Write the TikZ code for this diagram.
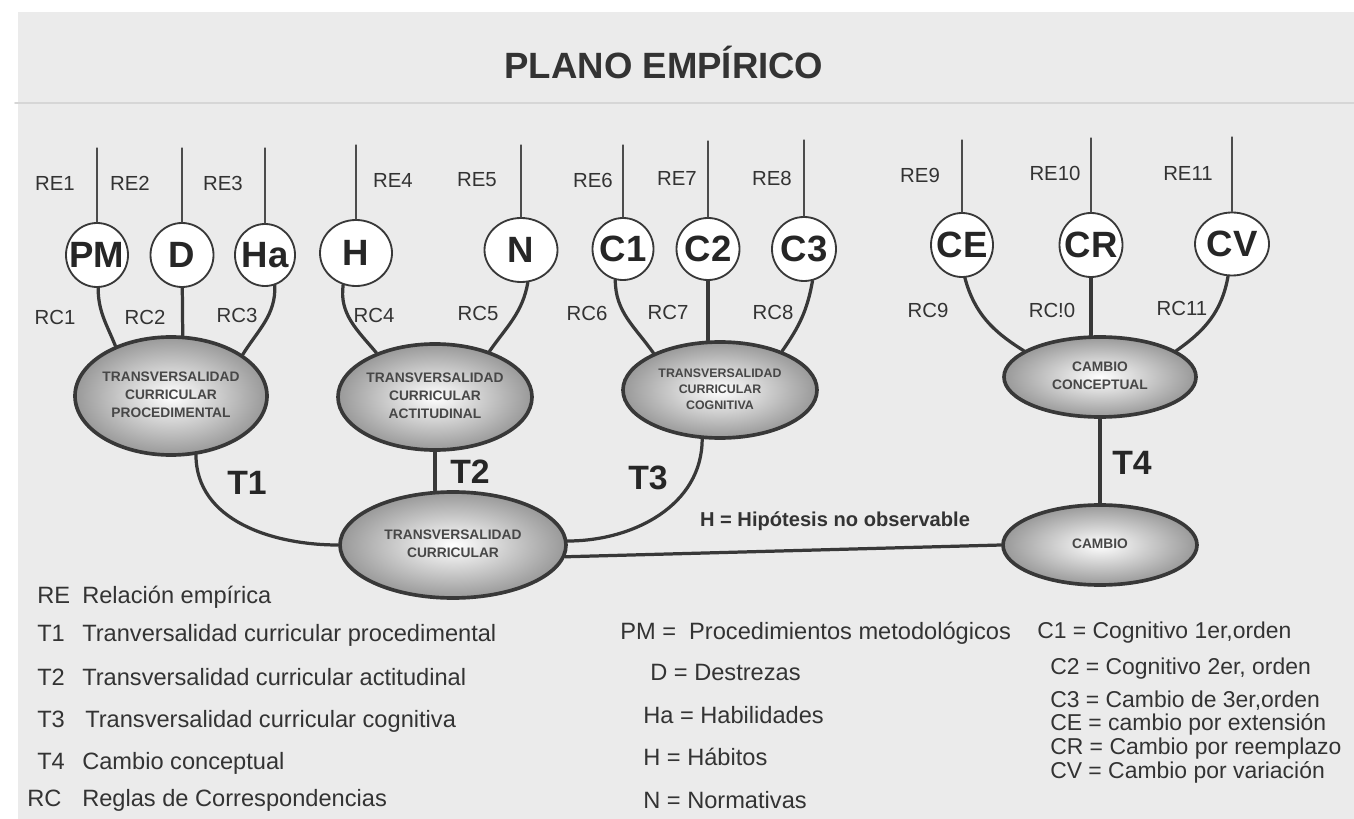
\documentclass[tikz,border=0pt]{standalone}
\usepackage{fontspec}
\setmainfont{Liberation Sans}
\usepackage{tikz}
\usetikzlibrary{positioning, calc}
\usetikzlibrary{shapes}

\newcommand{\ctext}[1]{\makebox[0pt]{\begin{tabular}{@{}c@{}}#1\end{tabular}}}

\begin{document}
\begin{tikzpicture}[x=0.025cm,y=-0.025cm,line cap=round]

	\def \px{0.025cm}
	\def \ink{black!78}
	\tikzstyle{bg}=[fill=black!8]
	\tikzstyle{c-node}=[ellipse,draw=\ink,line width=1.3pt,fill=white,inner sep=0pt,text=black!85,font=\fontsize{26}{26}\selectfont\bfseries]
	\tikzstyle{e-node}=[ellipse,draw=\ink,line width=2.6pt,inner sep=0pt,inner color=white,outer color=black!40,text=black!72,font=\fontsize{9.8}{13}\selectfont\bfseries]
	\tikzstyle{re-label}=[font=\fontsize{14.5}{17}\selectfont,text=black!80]
	\tikzstyle{t-label}=[font=\fontsize{24}{24}\selectfont\bfseries,text=black!85]
	\tikzstyle{legend}=[anchor=base west,inner sep=0pt,font=\fontsize{16.8}{19}\selectfont,text=black!80]
	\tikzstyle{legend-r}=[legend,font=\fontsize{16.3}{19}\selectfont]
	\tikzstyle{re-line}=[draw=black!70,line width=0.8pt]
	\tikzstyle{rc-line}=[draw=\ink,line width=2.3pt]

	\useasboundingbox (0,0) rectangle (1354,819);
	\fill[bg] (18,12) rectangle (1354,819);

	% title and plane
	\node[font=\fontsize{26}{26}\selectfont\bfseries,text=black!80] (title) at (664,62) {PLANO EMPÍRICO};
	\coordinate (planeL) at (15,103);
	\coordinate (planeR) at (1354,103);
	\draw[draw=black!16,line width=1.2pt] (planeL) -- (planeR);

	% observable concepts
	\node[c-node,minimum width=62*\px,minimum height=64*\px] (pm) at (97,255) {\makebox[0pt]{PM}};
	\node[c-node,minimum width=63*\px,minimum height=64*\px] (d)  at (182,255) {\makebox[0pt]{D}};
	\node[c-node,minimum width=60*\px,minimum height=62*\px] (ha) at (265,255) {\makebox[0pt]{Ha}};
	\node[c-node,minimum width=72*\px,minimum height=66*\px] (h)  at (356,253) {\makebox[0pt]{H}};
	\node[c-node,minimum width=73*\px,minimum height=64*\px] (n)  at (521,250) {\makebox[0pt]{N}};
	\node[c-node,minimum width=61*\px,minimum height=62*\px] (c1) at (623,249) {\makebox[0pt]{C1}};
	\node[c-node,minimum width=63*\px,minimum height=62*\px] (c2) at (708,249) {\makebox[0pt]{C2}};
	\node[c-node,minimum width=64*\px,minimum height=64*\px] (c3) at (804,249) {\makebox[0pt]{C3}};
	\node[c-node,minimum width=62*\px,minimum height=64*\px] (ce) at (962,245) {\makebox[0pt]{CE}};
	\node[c-node,minimum width=63*\px,minimum height=64*\px] (cr) at (1091,245) {\makebox[0pt]{CR}};
	\node[c-node,minimum width=74*\px,minimum height=63*\px] (cv) at (1232,244) {\makebox[0pt]{CV}};

	% hypotheses
	\node[e-node,minimum width=192*\px,minimum height=118*\px] (tcp) at (171,396) {\ctext{TRANSVERSALIDAD\\CURRICULAR\\PROCEDIMENTAL}};
	\node[e-node,minimum width=194*\px,minimum height=106*\px] (tca) at (435,397) {\ctext{TRANSVERSALIDAD\\CURRICULAR\\ACTITUDINAL}};
	\node[e-node,minimum width=194*\px,minimum height=96*\px,font=\fontsize{8.8}{11.5}\selectfont\bfseries] (tcc) at (720,390) {\ctext{TRANSVERSALIDAD\\CURRICULAR\\COGNITIVA}};
	\node[e-node,minimum width=192*\px,minimum height=80*\px] (cc) at (1100,377) {\ctext{CAMBIO\\CONCEPTUAL}};
	\node[e-node,minimum width=226*\px,minimum height=106*\px] (tc) at (453,545) {\ctext{TRANSVERSALIDAD\\CURRICULAR}};
	\node[e-node,minimum width=194*\px,minimum height=80*\px] (cambio) at (1100,545) {\ctext{CAMBIO}};

	% empirical relations
	\coordinate (re1)  at (97,148);
	\coordinate (re2)  at (182,148);
	\coordinate (re3)  at (265,148);
	\coordinate (re4)  at (356,145);
	\coordinate (re5)  at (521,145);
	\coordinate (re6)  at (623,145);
	\coordinate (re7)  at (708,141);
	\coordinate (re8)  at (804,140);
	\coordinate (re9)  at (962,140);
	\coordinate (re10) at (1091,138);
	\coordinate (re11) at (1232,137);
	\draw[re-line] (re1) -- (pm);
	\draw[re-line] (re2) -- (d);
	\draw[re-line] (re3) -- (ha);
	\draw[re-line] (re4) -- (h);
	\draw[re-line] (re5) -- (n);
	\draw[re-line] (re6) -- (c1);
	\draw[re-line] (re7) -- (c2);
	\draw[re-line] (re8) -- (c3);
	\draw[re-line] (re9) -- (ce);
	\draw[re-line] (re10) -- (cr);
	\draw[re-line] (re11) -- (cv);

	% correspondence rules
	\draw[rc-line] (pm.-88) to[out=-90,in=112] (tcp.138);
	\draw[rc-line] (d) -- (tcp.79);
	\draw[rc-line] (ha.-72) to[out=-88,in=58] (tcp.30);
	\draw[rc-line] (h.-112) to[out=-98,in=130] (tca.143);
	\draw[rc-line] (n.-78) to[out=-100,in=55] (tca.40);
	\draw[rc-line] (c1.-104) to[out=-90,in=125] (tcc.151);
	\draw[rc-line] (c2) -- (c2 |- tcc.north);
	\draw[rc-line] (c3.-75) to[out=-100,in=55] (tcc.32);
	\draw[rc-line] (ce.-85) to[out=-75,in=148] (cc.161);
	\draw[rc-line] (cr) -- (cr |- cc.north);
	\draw[rc-line] (cv.-97) to[out=-100,in=35] (cc.19);

	% theoretical links
	\draw[rc-line] (tcp.-67) to[out=-90,in=180] (tc.west);
	\draw[rc-line] (tca.south) -- (tca.south |- tc.north);
	\draw[rc-line] (tcc.-110) to[out=-90,in=0] (tc.2);
	\draw[rc-line] (tc.-6) -- (cambio.west);
	\draw[rc-line] (cc.south) -- (cambio.north);

	% labels
	\node[re-label] (lre1)  at (55,183)   {RE1};
	\node[re-label] (lre2)  at (130,183)  {RE2};
	\node[re-label] (lre3)  at (223,183)  {RE3};
	\node[re-label] (lre4)  at (393,180)  {RE4};
	\node[re-label] (lre5)  at (477,180)  {RE5};
	\node[re-label] (lre6)  at (593,180)  {RE6};
	\node[re-label] (lre7)  at (677,178)  {RE7};
	\node[re-label] (lre8)  at (772,178)  {RE8};
	\node[re-label] (lre9)  at (920,175)  {RE9};
	\node[re-label] (lre10) at (1055,173) {RE10};
	\node[re-label] (lre11) at (1188,173) {RE11};
	\node[re-label] (lrc1)  at (55,317)   {RC1};
	\node[re-label] (lrc2)  at (145,317)  {RC2};
	\node[re-label] (lrc3)  at (237,315)  {RC3};
	\node[re-label] (lrc4)  at (374,315)  {RC4};
	\node[re-label] (lrc5)  at (478,313)  {RC5};
	\node[re-label] (lrc6)  at (587,313)  {RC6};
	\node[re-label] (lrc7)  at (668,312)  {RC7};
	\node[re-label] (lrc8)  at (773,312)  {RC8};
	\node[re-label] (lrc9)  at (928,310)  {RC9};
	\node[re-label] (lrc10) at (1052,310) {RC!0};
	\node[re-label] (lrc11) at (1182,308) {RC11};
	\node[t-label] (lt1) at (247,483) {T1};
	\node[t-label] (lt2) at (470,472) {T2};
	\node[t-label] (lt3) at (648,478) {T3};
	\node[t-label] (lt4) at (1132,463) {T4};
	\node[font=\fontsize{14.3}{16}\selectfont\bfseries,text=black!80] (hyp) at (835,521) {H = Hipótesis no observable};

	% legend
	\node[legend] (kre) at (37,603) {RE};
	\node[legend] (kre-d) at (82,603) {Relación empírica};
	\node[legend] (kt1) at (37,641) {T1};
	\node[legend] (kt1-d) at (82,641) {Tranversalidad curricular procedimental};
	\node[legend] (kt2) at (37,685) {T2};
	\node[legend] (kt2-d) at (82,685) {Transversalidad curricular actitudinal};
	\node[legend] (kt3) at (37,727) {T3};
	\node[legend] (kt3-d) at (85,727) {Transversalidad curricular cognitiva};
	\node[legend] (kt4) at (37,769) {T4};
	\node[legend] (kt4-d) at (82,769) {Cambio conceptual};
	\node[legend] (krc) at (27,806) {RC};
	\node[legend] (krc-d) at (82,806) {Reglas de Correspondencias};

	\node[legend] (kpm) at (620,639) {PM =\ \ Procedimientos metodológicos};
	\node[legend] (kd)  at (650,680) {D = Destrezas};
	\node[legend] (kha) at (643,723) {Ha = Habilidades};
	\node[legend] (kh)  at (643,765) {H = Hábitos};
	\node[legend] (kn)  at (643,808) {N = Normativas};

	\node[legend-r] (kc1) at (1037,638) {C1 = Cognitivo 1er,orden};
	\node[legend-r] (kc2) at (1050,674) {C2 = Cognitivo 2er, orden};
	\node[legend-r] (kc3) at (1050,707) {C3 = Cambio de 3er,orden};
	\node[legend-r] (kce) at (1050,730) {CE = cambio por extensión};
	\node[legend-r] (kcr) at (1050,754) {CR = Cambio por reemplazo};
	\node[legend-r] (kcv) at (1050,778) {CV = Cambio por variación};

\end{tikzpicture}
\end{document}
